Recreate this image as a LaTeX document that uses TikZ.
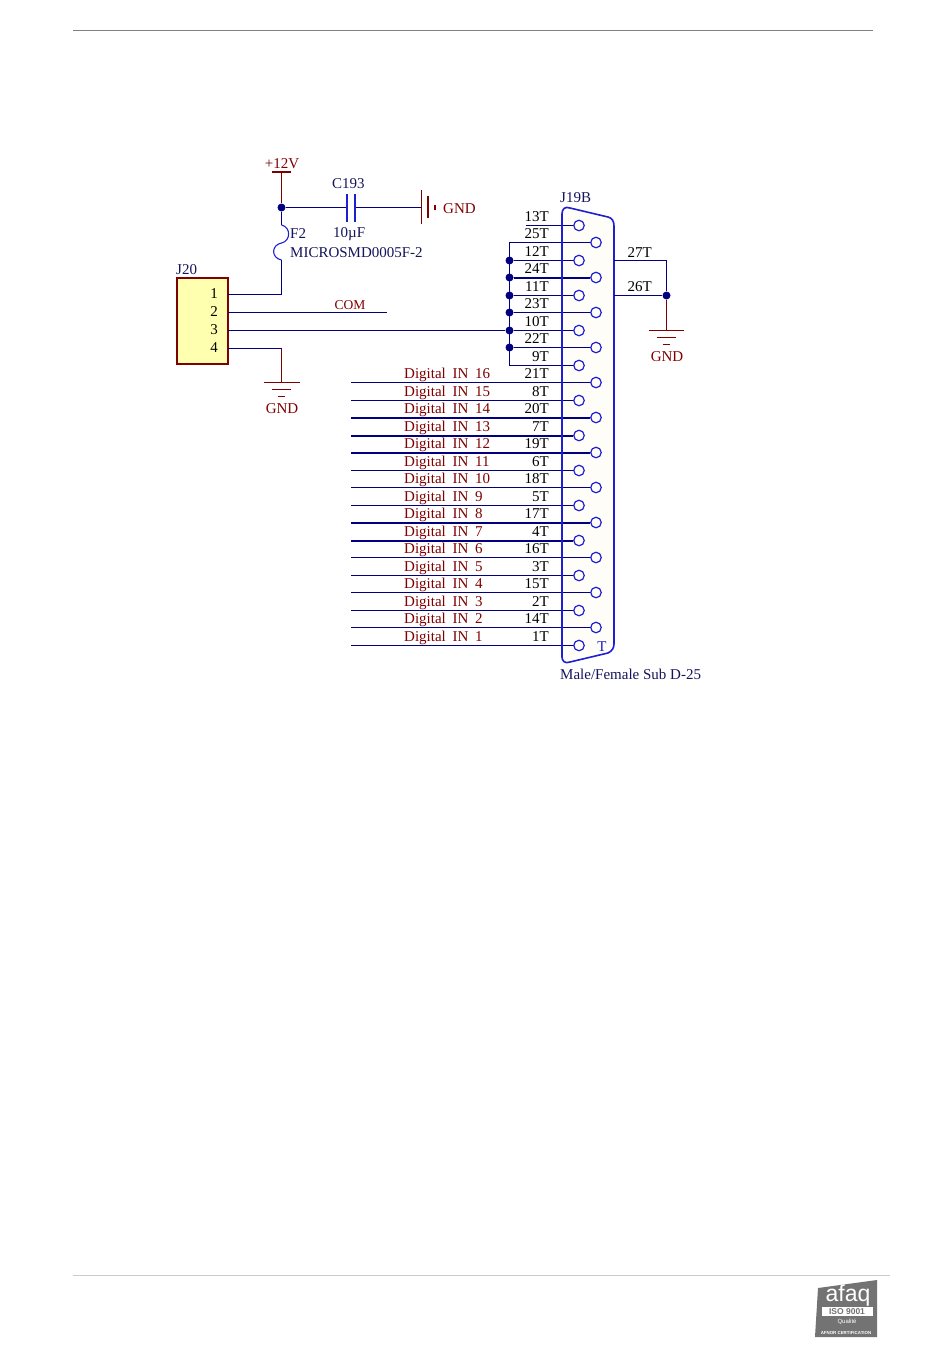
\documentclass[tikz,border=0pt]{standalone}
\usepackage{fontspec}
\setmainfont{Liberation Serif}
\setsansfont{Liberation Sans}
\newfontfamily\netfont[WordSpace=1.8]{Liberation Serif}
\usetikzlibrary{positioning, calc}
\definecolor{wireblue}{RGB}{0,0,128}
\definecolor{partblue}{RGB}{30,30,210}
\definecolor{pwrred}{RGB}{127,0,0}
\definecolor{bodyyellow}{RGB}{255,255,176}
\definecolor{bodycream}{RGB}{255,253,248}
\definecolor{textnavy}{RGB}{20,20,90}
\definecolor{logogray}{RGB}{115,115,115}
\newcommand{\jbody}{(562,214) .. controls (562,209) and (565,206) .. (570,208) -- (608,217) .. controls (612,218) and (614,221) .. (614,226) -- (614,644) .. controls (614,648) and (612,651) .. (608,653) -- (570,662) .. controls (565,664) and (562,661) .. (562,657) -- cycle}

\begin{document}
\begin{tikzpicture}[
        x=1pt, y=-1pt,
        wire/.style={draw=wireblue, line width=1pt},
        thickwire/.style={draw=wireblue, line width=2pt},
        pwr/.style={draw=pwrred, line width=1pt},
        pinhole/.style={circle, draw=partblue, line width=1.2pt, inner sep=0pt, minimum size=10.5pt, fill=bodycream},
        junction/.style={circle, fill=wireblue, inner sep=0pt, minimum size=8pt},
        pinlabel/.style={anchor=base east, inner sep=0pt, font=\fontsize{15}{15}\selectfont, text=black},
        netlabel/.style={anchor=base west, inner sep=0pt, font=\netfont\fontsize{15}{15}\selectfont, text=pwrred},
        partlabel/.style={anchor=base west, inner sep=0pt, font=\fontsize{15}{15}\selectfont, text=textnavy},
        pwrlabel/.style={anchor=base, inner sep=0pt, font=\fontsize{15}{15}\selectfont, text=pwrred}
    ]
        \useasboundingbox (0,0) rectangle (950,1369);
        % page rules
        \coordinate (topl) at (73,30);
        \coordinate (topr) at (873,30);
        \coordinate (botl) at (73,1275);
        \coordinate (botr) at (890,1275);
        \draw[gray, line width=0.9pt] (topl) -- (topr);
        \draw[black!20, line width=0.9pt] (botl) -- (botr);

        % connector J19B
        \fill[bodycream] \jbody;
        \node[partlabel] (j19name) at (560,202) {J19B};
        \node[partlabel] (j19type) at (560,679) {Male/Female Sub D-25};
        \node[anchor=base, inner sep=0pt, font=\fontsize{15}{15}\selectfont, text=partblue] (j19t) at (602,651) {T};

        \foreach \pin [count=\i from 0] in {13,25,12,24,11,23,10,22,9,21,8,20,7,19,6,18,5,17,4,16,3,15,2,14,1} {
            \pgfmathsetmacro{\py}{floor(225+\i*17.5)+0.5}
            \pgfmathsetmacro{\px}{mod(\i,2)==0 ? 579 : 596}
            \node[pinhole] (p\pin) at (\px,\py) {};
            \node[pinlabel] (l\pin) at (549,\py-4) {\pin T};
        }

        % digital inputs
        \foreach \pin/\num in {21/16,8/15,20/14,7/13,19/12,6/11,18/10,5/9,17/8,4/7,16/6,3/5,15/4,2/3,14/2,1/1} {
            \coordinate (d\num) at (p\pin -| 351,0);
            \draw[wire] (d\num) -- (p\pin);
            \node[netlabel] (n\num) at ($(p\pin -| 404,0)+(0,-4)$) {Digital IN \num};
        }
        \foreach \num/\pin in {14/20,13/7,12/19,8/17,7/4} {
            \draw[thickwire] (d\num) -- (p\pin);
        }

        % bus on the left of J19B
        \coordinate (s13) at (p13 -| 526,0);
        \draw[wire] (s13) -- (p13);
        \coordinate (bustop) at (p25 -| 509.5,0);
        \coordinate (busbot) at (p9 -| 509.5,0);
        \draw[wire] (p25) -- (bustop) -- (busbot) -- (p9);
        \foreach \pin in {12,24,11,23,10,22} {
            \node[junction] (b\pin) at (p\pin -| bustop) {};
            \draw[wire] (b\pin) -- (p\pin);
        }
        \draw[thickwire] (b24) -- (p24);
        \draw[draw=partblue, line width=1.6pt] \jbody;

        % right side of J19B
        \coordinate (r27) at (614,260.5);
        \coordinate (r26) at (614,295.5);
        \coordinate (c27) at (666.5,260.5);
        \node[junction] (b26) at (666.5,295.5) {};
        \coordinate (gndr) at (666.5,330.5);
        \draw[wire] (r27) -- (c27) -- (b26);
        \draw[wire] (r26) -- (b26);
        \draw[pwr] (b26) -- (gndr);
        \node[pinlabel] (l27) at (652,257) {27T};
        \node[pinlabel] (l26) at (652,291) {26T};
        \draw[pwr] (649,330.5) -- (684,330.5) (657,337.5) -- (676,337.5) (663,344.5) -- (670,344.5);
        \node[pwrlabel] (gndrtext) at (667,361) {GND};

        % header J20
        \node[rectangle, draw=pwrred, fill=bodyyellow, line width=1.6pt, minimum width=51pt, minimum height=86pt, inner sep=0pt] (j20) at (202.5,321) {};
        \node[partlabel] (j20name) at (176,274) {J20};
        \foreach \n/\py in {1/294.5,2/312.5,3/330.5,4/348.5} {
            \coordinate (h\n) at (228,\py);
            \node[anchor=base, inner sep=0pt, font=\fontsize{15}{15}\selectfont, text=black] (hl\n) at (214,\py+4) {\n};
        }

        % +12V, fuse and capacitor
        \coordinate (vcc) at (281.5,172);
        \node[junction] (bvcc) at (281.5,207.5) {};
        \coordinate (f2top) at (281.5,225);
        \coordinate (f2mid) at (281.5,243);
        \coordinate (f2bot) at (281.5,260);
        \coordinate (c1) at (281.5,294.5);
        \draw[pwr] (vcc) -- (bvcc);
        \draw[pwr, line width=1.6pt] (272,172) -- (291,172);
        \node[pwrlabel] (vcctext) at (282,168) {+12V};
        \draw[wire] (bvcc) -- (f2top);
        \draw[draw=partblue, line width=1.1pt] (f2top) .. controls (291,227) and (291,241) .. (f2mid) .. controls (271,245) and (271,258) .. (f2bot);
        \draw[wire] (f2bot) -- (c1) -- (h1);
        \node[partlabel] (f2name) at (290,238) {F2};
        \node[partlabel] (f2val) at (290,257) {MICROSMD0005F-2};

        \coordinate (capa) at (347,207.5);
        \coordinate (capb) at (355,207.5);
        \coordinate (gndc) at (421,207.5);
        \draw[wire] (bvcc) -- (capa);
        \draw[wire] (capb) -- (gndc);
        \draw[draw=partblue, line width=1.8pt] (347,194) -- (347,222) (355,194) -- (355,222);
        \node[partlabel] (cname) at (332,188) {C193};
        \node[partlabel] (cval) at (333,237) {10µF};
        \draw[pwr] (421,190) -- (421,224);
        \draw[pwr, line width=1.6pt] (428,196) -- (428,218) (435,205) -- (435,210);
        \node[pwrlabel, anchor=base west] (gndctext) at (443,213) {GND};

        % other J20 pins
        \coordinate (com) at (387,312.5);
        \draw[wire] (h2) -- (com);
        \node[pwrlabel] (comtext) at (350,309) {\fontsize{13.5}{14}\selectfont COM};
        \draw[wire] (h3) -- (b10);
        \coordinate (c4) at (281.5,348.5);
        \coordinate (gndl) at (281.5,382.5);
        \draw[wire] (h4) -- (c4);
        \draw[pwr] (c4) -- (gndl);
        \draw[pwr] (264,382.5) -- (300,382.5) (272,389.5) -- (291,389.5) (278,396.5) -- (285,396.5);
        \node[pwrlabel] (gndltext) at (282,413) {GND};

        % afaq logo
        \fill[logogray] (818,1288) -- (877,1280) -- (877,1337) -- (815,1337) -- cycle;
        \node[anchor=base, inner sep=0pt, text=white, font=\sffamily\fontsize{23}{23}\selectfont] (afaq) at (848,1301) {afaq};
        \node[rectangle, fill=white, minimum width=51pt, minimum height=9pt, inner sep=0pt, text=logogray, font=\sffamily\bfseries\fontsize{8.5}{9}\selectfont] (iso) at (847,1311.5) {ISO 9001};
        \node[inner sep=0pt, text=white, font=\sffamily\fontsize{6}{6}\selectfont] (qual) at (847,1322) {Qualité};
        \node[inner sep=0pt, text=white, font=\sffamily\bfseries\fontsize{4.4}{5}\selectfont] (afnor) at (846,1333) {AFNOR CERTIFICATION};
    \end{tikzpicture}
\end{document}
